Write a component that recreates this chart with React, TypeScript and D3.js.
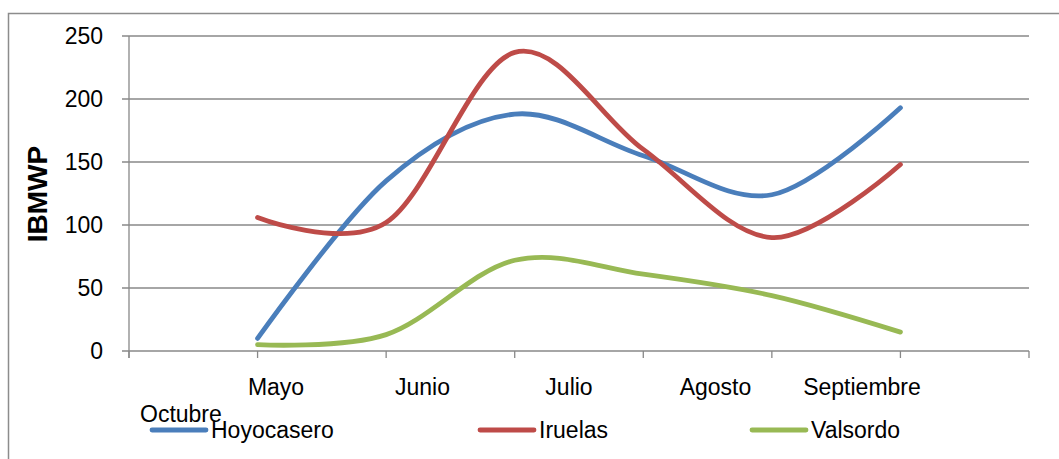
import React from "react";
import * as d3 from "d3";

// Sampling months and IBMWP index per site
const months = ["Mayo", "Junio", "Julio", "Agosto", "Septiembre", "Octubre"];
const hoyocasero = [10, 135, 188, 155, 124, 193];
const iruelas = [106, 102, 237, 160, 90, 148];
const valsordo = [5, 13, 72, 61, 44, 15];
const yTicks = [0, 50, 100, 150, 200, 250];
const seriesNames = ["Hoyocasero", "Iruelas", "Valsordo"];
const seriesColors = ["#4A7EBB", "#BE4B48", "#98B954"];

const W = 1059;
const H = 459;
const FONT = "'Liberation Sans', Arial, sans-serif";

export default function App() {
  const seriesValues = [hoyocasero, iruelas, valsordo];

  // category slots: 0 and 7 are empty edges, months sit on slots 1..6
  const x = d3.scaleLinear().domain([0, months.length + 1]).range([129, 1029]);
  const y = d3.scaleLinear().domain([0, 250]).range([351, 36]);
  const slots = d3.range(0, months.length + 2);

  // labels crowd into the first row; the last one wraps below
  const labelRow = months.slice(0, months.length - 1);
  const labelX = d3.scalePoint<string>().domain(labelRow).range([276, 862]);

  const line = d3
    .line<number>()
    .x((_, i) => x(i + 1))
    .y((v) => y(v))
    .curve(d3.curveCardinal.tension(0));

  const legendX = [152, 480, 752];

  return (
    <svg width={W} height={H} style={{ position: "absolute", left: 0, top: 0 }}>
      <rect x={0} y={0} width={W} height={H} fill="#fff" />
      <rect x={8.5} y={13.5} width={W + 20} height={H + 20} fill="none" stroke="#8c8c8c" strokeWidth={1.5} />

      {/* gridlines and y-axis ticks */}
      {yTicks.map((t) => (
        <g key={t}>
          <line x1={122} x2={1029} y1={y(t)} y2={y(t)} stroke="#888" strokeWidth={1.3} />
          <text
            x={103}
            y={y(t)}
            dy="0.36em"
            textAnchor="end"
            fontFamily={FONT}
            fontSize={23}
            fill="#000"
          >
            {t}
          </text>
        </g>
      ))}
      <line x1={129} x2={129} y1={y(250)} y2={y(0) + 7} stroke="#888" strokeWidth={1.3} />
      {slots.map((s) => (
        <line key={s} x1={x(s)} x2={x(s)} y1={y(0)} y2={y(0) + 7} stroke="#888" strokeWidth={1.3} />
      ))}

      {/* axis title */}
      <text
        transform={`translate(47,194) rotate(-90)`}
        textAnchor="middle"
        fontFamily={FONT}
        fontWeight="bold"
        fontSize={28}
        fill="#000"
      >
        IBMWP
      </text>

      {/* category labels */}
      {labelRow.map((m) => (
        <text key={m} x={labelX(m)} y={395} textAnchor="middle" fontFamily={FONT} fontSize={23} fill="#000">
          {m}
        </text>
      ))}
      <text x={140} y={422} fontFamily={FONT} fontSize={23} fill="#000">
        {months[months.length - 1]}
      </text>

      {/* series */}
      {seriesValues.map((vals, i) => (
        <path
          key={seriesNames[i]}
          d={line(vals) ?? ""}
          fill="none"
          stroke={seriesColors[i]}
          strokeWidth={4.8}
          strokeLinecap="round"
          strokeLinejoin="round"
        />
      ))}

      {/* legend */}
      {seriesNames.map((n, i) => (
        <g key={n}>
          <line
            x1={legendX[i]}
            x2={legendX[i] + 54}
            y1={430}
            y2={430}
            stroke={seriesColors[i]}
            strokeWidth={4.8}
            strokeLinecap="round"
          />
          <text x={legendX[i] + 59} y={438} fontFamily={FONT} fontSize={23} fill="#000">
            {n}
          </text>
        </g>
      ))}
    </svg>
  );
}
